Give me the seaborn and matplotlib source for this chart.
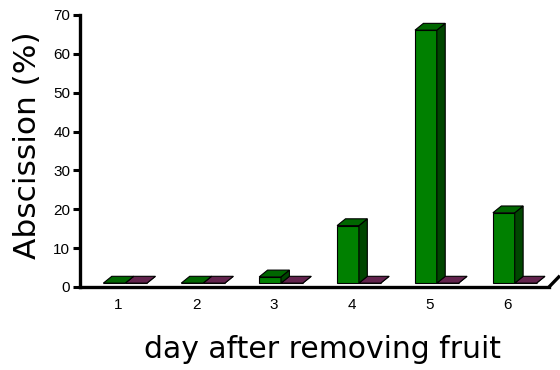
import pandas as pd
import seaborn as sns
import matplotlib.pyplot as plt
from matplotlib.patches import Polygon
from matplotlib.colors import to_rgb

days = ["1", "2", "3", "4", "5", "6"]
series_a = [0, 0, 1.6, 14.8, 65.1, 18.1]
series_b = [0, 0, 0, 0, 0, 0]
y_ticks = [0, 10, 20, 30, 40, 50, 60, 70]

df = pd.DataFrame({
    "day": days * 2,
    "value": series_a + series_b,
    "series": ["a"] * len(days) + ["b"] * len(days),
})

sns.set_style("white")
plt.rcParams["font.family"] = ["Liberation Sans", "DejaVu Sans"]
plt.rcParams["text.color"] = "black"
plt.rcParams["axes.labelcolor"] = "black"
plt.rcParams["xtick.color"] = "black"
plt.rcParams["ytick.color"] = "black"
plt.rcParams["axes.edgecolor"] = "black"

fig = plt.figure(figsize=(5.6, 3.7), dpi=100)
ax = fig.add_axes([80 / 560, 83 / 370, 469 / 560, 272 / 370])

sns.barplot(data=df, x="day", y="value", hue="series",
            palette=["#008000", "#7a2c60"], saturation=1, width=0.56, gap=0,
            edgecolor="black", linewidth=0.8, legend=False, ax=ax)

# fake 3d depth
dx, dy = 0.108, 1.75
shift_x, base = 0.09, 1.0


def shade(c, f):
    r, g, b = to_rgb(c)
    return (r * f, g * f, b * f)


for z, cont in zip([4, 3], ax.containers):
    for bar in cont:
        col = bar.get_facecolor()
        x0 = bar.get_x() + shift_x
        w = bar.get_width()
        h = bar.get_height()
        bar.set_x(x0)
        bar.set_y(base)
        bar.set_zorder(z)
        x1, top = x0 + w, base + h
        side = Polygon([(x1, base), (x1 + dx, base + dy), (x1 + dx, top + dy), (x1, top)],
                       closed=True, facecolor=shade(col, 0.55), edgecolor="black",
                       linewidth=0.8, zorder=z)
        lid = Polygon([(x0, top), (x1, top), (x1 + dx, top + dy), (x0 + dx, top + dy)],
                      closed=True, facecolor=shade(col, 0.8), edgecolor="black",
                      linewidth=0.8, zorder=z)
        ax.add_patch(side)
        ax.add_patch(lid)

ax.set_xlim(-0.49, 5.53)
ax.set_ylim(0, 70)
ax.set_yticks(y_ticks)
ax.tick_params(axis="y", direction="out", length=5, width=2.2, labelsize=11, pad=2, left=True)
ax.tick_params(axis="x", length=0, labelsize=11, pad=8)

sns.despine(ax=ax)
ax.spines["left"].set_linewidth(2.4)
ax.spines["bottom"].set_linewidth(2.4)
ax.plot([5.53, 5.53 + 0.14], [0, 2.9], color="black", lw=2.4, clip_on=False,
        solid_capstyle="butt")

ax.set_xlabel("day after removing fruit", fontsize=21.5, family=["DejaVu Sans"])
ax.set_ylabel("Abscission (%)", fontsize=22.5, family=["DejaVu Sans"])
ax.xaxis.set_label_coords(0.517, -0.175)
ax.yaxis.set_label_coords(-0.08, 0.52)

fig.savefig("out.png", dpi=100)
